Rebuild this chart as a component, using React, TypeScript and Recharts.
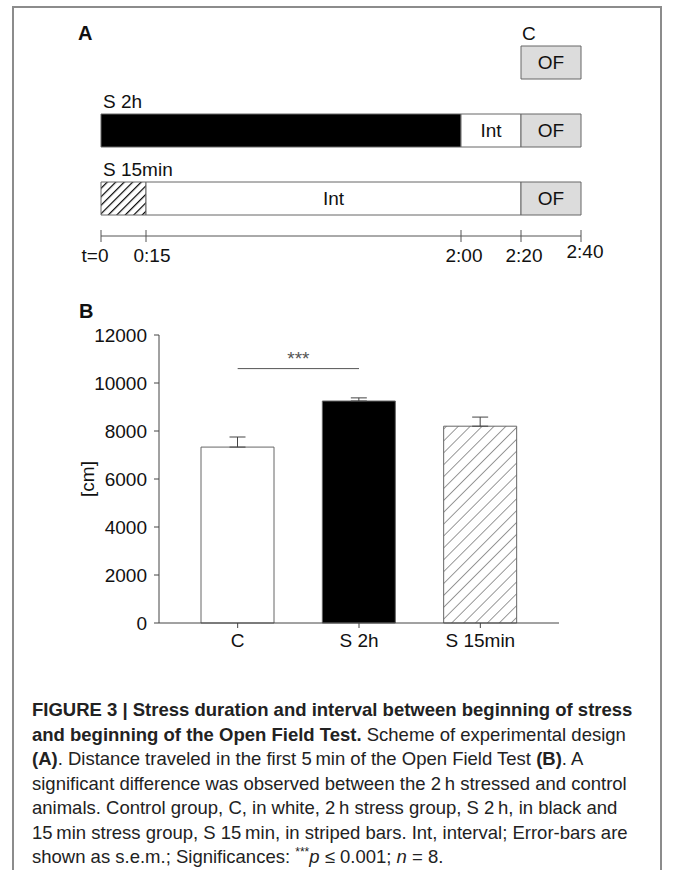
import React from 'react';
import { BarChart, Bar, XAxis, YAxis, Cell, LabelList, ErrorBar, ReferenceLine } from 'recharts';

// panel A: experimental timeline, in minutes
const groups = ['C', 'S 2h', 'S 15min'];
const waitMin = [140, 0, 0];
const stressMin = [0, 120, 15];
const intervalMin = [0, 20, 125];
const ofMin = [20, 20, 20];
const timeTicks = [0, 15, 120, 140, 160];
const timeTickLabels = ['t=0', '0:15', '2:00', '2:20', '2:40'];

// panel B: distance travelled [cm]
const distance = [7330, 9250, 8200];
const sem = [420, 130, 380];
const distTicks = [0, 2000, 4000, 6000, 8000, 10000, 12000];
const sigLevel = 10600;
const sigLabel = '***';

const FONT = '"Liberation Sans", Arial, Helvetica, sans-serif';
const INK = '#111';
const EDGE = '#666';

const timeline = groups.map((name, i) => ({
  name,
  wait: waitMin[i],
  stress: stressMin[i],
  int: intervalMin[i],
  of: ofMin[i],
}));

const distData = groups.map((name, i) => ({
  name,
  dist: distance[i],
  err: [0, sem[i]],
}));

const stressFills = ['none', '#000', 'url(#hatchA)'];
const distFills = ['#fff', '#000', 'url(#hatchB)'];

// small horizontal nudges of the time labels, as in the original layout
const tickDx = [-6, 6, 3, 3, 4];
const tickDy = [0, 0, 0, 0, -4];

const TimeTick = (props: any) => {
  const { x, y, payload } = props;
  const i = timeTicks.indexOf(payload.value);
  return (
    <g>
      <line x1={x} x2={x} y1={y - 6} y2={y + 6} stroke="#555" />
      <text
        x={x + tickDx[i]}
        y={y + 26 + tickDy[i]}
        textAnchor="middle"
        fontSize={19}
        fill={INK}
        fontFamily={FONT}
      >
        {timeTickLabels[i]}
      </text>
    </g>
  );
};

// row name above the start of the first drawn segment
const rowName = (atEnd: boolean) => (props: any) => {
  const { x, y, width, value } = props;
  if (!width) return null;
  return (
    <text x={atEnd ? x + width + 1 : x + 2} y={y - 6} fontSize={19} fill={INK} fontFamily={FONT}>
      {value}
    </text>
  );
};

const segText = (text: string) => (props: any) => {
  const { x, y, width, height, value } = props;
  if (!value) return null;
  return (
    <text
      x={x + width / 2}
      y={y + height / 2}
      textAnchor="middle"
      dominantBaseline="central"
      fontSize={19}
      fill={INK}
      fontFamily={FONT}
    >
      {text}
    </text>
  );
};

const CmLabel = (props: any) => {
  const { viewBox } = props;
  const cx = viewBox.x + 87;
  const cy = viewBox.y + viewBox.height / 2;
  return (
    <text
      x={cx}
      y={cy}
      transform={`rotate(-90, ${cx}, ${cy})`}
      textAnchor="middle"
      dominantBaseline="central"
      fontSize={19}
      fill={INK}
      fontFamily={FONT}
    >
      [cm]
    </text>
  );
};

const letter: React.CSSProperties = {
  position: 'absolute',
  fontFamily: FONT,
  fontWeight: 'bold',
  fontSize: 20,
  lineHeight: '20px',
  color: INK,
};

const capLine: React.CSSProperties = {
  whiteSpace: 'nowrap',
  height: 24.5,
  lineHeight: '24.5px',
};
const bold: React.CSSProperties = { fontWeight: 'bold' };

export default function App() {
  return (
    <div
      style={{
        position: 'absolute',
        left: 0,
        top: 0,
        width: 673,
        height: 870,
        overflow: 'hidden',
        background: '#fff',
        fontFamily: FONT,
      }}
    >
      <div
        style={{
          position: 'absolute',
          left: 12,
          top: 6,
          width: 646,
          height: 900,
          borderTop: '2px solid #8c8c8c',
          borderLeft: '2px solid #8c8c8c',
          borderRight: '2px solid #8c8c8c',
        }}
      />
      <div style={{ ...letter, left: 78, top: 23 }}>A</div>
      <div style={{ ...letter, left: 79, top: 301 }}>B</div>

      <div style={{ position: 'absolute', left: 0, top: 0 }}>
        <BarChart
          width={673}
          height={280}
          layout="vertical"
          data={timeline}
          margin={{ top: 28, right: 92, bottom: 14, left: 101 }}
        >
          <defs>
            <pattern id="hatchA" patternUnits="userSpaceOnUse" width="6" height="6" patternTransform="rotate(45)">
              <rect width="6" height="6" fill="#fff" />
              <line x1="0" y1="0" x2="0" y2="6" stroke="#000" strokeWidth="2.4" />
            </pattern>
          </defs>
          <XAxis
            type="number"
            domain={[0, 160]}
            ticks={timeTicks}
            interval={0}
            height={30}
            tickSize={0}
            tickMargin={0}
            tickLine={false}
            axisLine={{ stroke: '#555' }}
            tick={<TimeTick />}
          />
          <YAxis type="category" dataKey="name" hide padding={{ top: 0, bottom: 4 }} />
          <Bar dataKey="wait" stackId="t" barSize={33} fill="none" stroke="none" isAnimationActive={false}>
            <LabelList dataKey="name" content={rowName(true)} />
          </Bar>
          <Bar dataKey="stress" stackId="t" barSize={33} stroke={EDGE} isAnimationActive={false}>
            {timeline.map((d, i) => (
              <Cell key={d.name} fill={stressFills[i]} />
            ))}
            <LabelList dataKey="name" content={rowName(false)} />
          </Bar>
          <Bar dataKey="int" stackId="t" barSize={33} fill="#fff" stroke={EDGE} isAnimationActive={false}>
            <LabelList dataKey="int" content={segText('Int')} />
          </Bar>
          <Bar dataKey="of" stackId="t" barSize={33} fill="#dcdcdc" stroke={EDGE} isAnimationActive={false}>
            <LabelList dataKey="of" content={segText('OF')} />
          </Bar>
        </BarChart>
      </div>

      <div style={{ position: 'absolute', left: 0, top: 290 }}>
        <BarChart
          width={673}
          height={380}
          data={distData}
          margin={{ top: 45, right: 114, bottom: 7, left: 0 }}
        >
          <defs>
            <pattern id="hatchB" patternUnits="userSpaceOnUse" width="8.4" height="8.4" patternTransform="rotate(45)">
              <rect width="8.4" height="8.4" fill="#fff" />
              <line x1="0" y1="0" x2="0" y2="8.4" stroke="#333" strokeWidth="1" />
            </pattern>
          </defs>
          <XAxis
            dataKey="name"
            height={40}
            padding={{ left: 18, right: 18 }}
            tickSize={5}
            tickMargin={6}
            axisLine={{ stroke: '#444' }}
            tickLine={{ stroke: '#444' }}
            tick={{ fontSize: 19, fill: INK, fontFamily: FONT }}
          />
          <XAxis
            xAxisId="top"
            dataKey="name"
            orientation="top"
            height={0}
            tick={false}
            tickLine={false}
            axisLine={{ stroke: '#444' }}
          />
          <YAxis
            width={159}
            domain={[0, 12000]}
            ticks={distTicks}
            interval={0}
            tickSize={5}
            tickMargin={7}
            axisLine={{ stroke: '#444' }}
            tickLine={{ stroke: '#444' }}
            tick={{ fontSize: 19, fill: INK, fontFamily: FONT }}
            label={<CmLabel />}
          />
          <YAxis
            yAxisId="right"
            orientation="right"
            width={0}
            domain={[0, 12000]}
            tick={false}
            tickLine={false}
            axisLine={{ stroke: '#444' }}
          />
          <Bar dataKey="dist" barSize={73} stroke={EDGE} isAnimationActive={false}>
            {distData.map((d, i) => (
              <Cell key={d.name} fill={distFills[i]} />
            ))}
            <ErrorBar dataKey="err" direction="y" width={8} stroke="#444" strokeWidth={1} />
          </Bar>
          <ReferenceLine
            segment={[
              { x: 'C', y: sigLevel },
              { x: 'S 2h', y: sigLevel },
            ]}
            stroke="#555"
            label={{ value: sigLabel, position: 'top', offset: 4, fontSize: 19, fill: '#555' }}
          />
        </BarChart>
      </div>

      <div
        style={{
          position: 'absolute',
          left: 32,
          top: 698,
          fontSize: 18.5,
          color: '#222',
        }}
      >
        <div style={capLine}>
          <span style={bold}>FIGURE 3 | Stress duration and interval between beginning of stress</span>
        </div>
        <div style={capLine}>
          <span style={bold}>and beginning of the Open Field Test.</span> Scheme of experimental design
        </div>
        <div style={capLine}>
          <span style={bold}>(A)</span>. Distance traveled in the first 5{'\u2009'}min of the Open Field Test{' '}
          <span style={bold}>(B)</span>. A
        </div>
        <div style={capLine}>significant difference was observed between the 2{'\u2009'}h stressed and control</div>
        <div style={capLine}>
          animals. Control group, C, in white, 2{'\u2009'}h stress group, S 2{'\u2009'}h, in black and
        </div>
        <div style={capLine}>
          15{'\u2009'}min stress group, S 15{'\u2009'}min, in striped bars. Int, interval; Error-bars are
        </div>
        <div style={capLine}>
          shown as s.e.m.; Significances:{' '}
          <span style={{ fontSize: 12, verticalAlign: 'super', lineHeight: 0 }}>***</span>
          <i>p</i> ≤ 0.001; <i>n</i> = 8.
        </div>
      </div>
    </div>
  );
}
